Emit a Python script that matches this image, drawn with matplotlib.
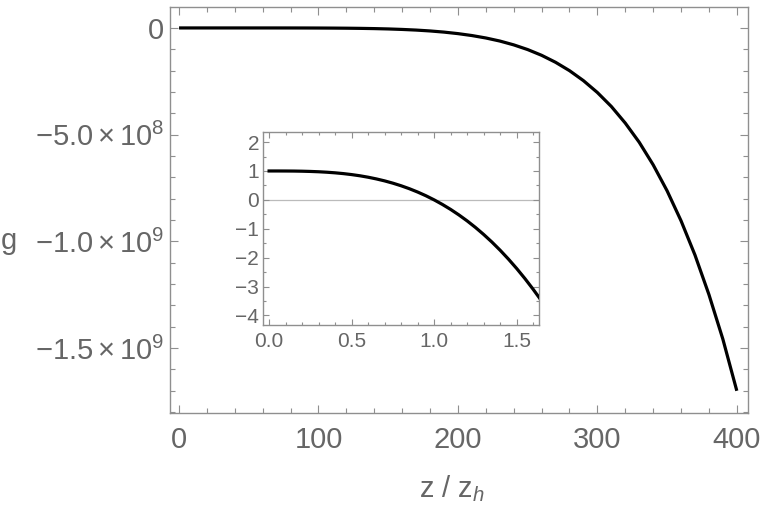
import matplotlib
matplotlib.use("Agg")
import matplotlib.pyplot as plt
from matplotlib.ticker import MultipleLocator, FixedLocator

plt.rcParams['font.family'] = ['Liberation Sans', 'DejaVu Sans']
plt.rcParams['mathtext.fontset'] = 'custom'
plt.rcParams['mathtext.rm'] = 'Liberation Sans'
plt.rcParams['mathtext.it'] = 'Liberation Sans:italic'
plt.rcParams['mathtext.default'] = 'regular'

# main curve (g in units of 1e8)
z_main = [0, 10, 20, 30, 40, 50, 60, 70, 80, 90, 100, 110, 120, 130, 140, 150,
          160, 170, 180, 190, 200, 210, 220, 230, 240, 250, 260, 270, 280, 290,
          300, 310, 320, 330, 340, 350, 360, 370, 380, 390, 400]
g_main = [0, 0, 0, 0, 0, -0.0001, -0.0002, -0.0005, -0.0011, -0.0022, -0.0042,
          -0.0074, -0.0124, -0.020, -0.031, -0.047, -0.070, -0.100, -0.141,
          -0.195, -0.266, -0.356, -0.470, -0.613, -0.793, -1.013, -1.282,
          -1.609, -2.001, -2.469, -3.025, -3.679, -4.457, -5.355, -6.411,
          -7.630, -9.034, -10.64, -12.49, -14.58, -17.00]

# inset curve
z_ins = [0.0, 0.05, 0.1, 0.15, 0.2, 0.25, 0.3, 0.35, 0.4, 0.45, 0.5, 0.55, 0.6,
         0.65, 0.7, 0.75, 0.8, 0.85, 0.9, 0.95, 1.0, 1.05, 1.1, 1.15, 1.2, 1.25,
         1.3, 1.35, 1.4, 1.45, 1.5, 1.55, 1.6, 1.637]
g_ins = [1.0, 1.0, 0.999, 0.997, 0.992, 0.984, 0.973, 0.957, 0.936, 0.909,
         0.875, 0.834, 0.784, 0.725, 0.657, 0.578, 0.488, 0.386, 0.271, 0.143,
         0.0, -0.158, -0.331, -0.521, -0.728, -0.953, -1.197, -1.460, -1.744,
         -2.049, -2.375, -2.724, -3.096, -3.387]

y_ticks = [0, -5e8, -1e9, -1.5e9]
y_tick_labels = ['0', r'$-5.0\times10^{8}$', r'$-1.0\times10^{9}$', r'$-1.5\times10^{9}$']

frame_c = '#8f8f8f'
text_c = '#666666'

fig = plt.figure(figsize=(7.63, 5.09), dpi=100)
ax = fig.add_axes([0.2228, 0.1886, 0.7575, 0.7976])

ax.plot(z_main, [v * 1e8 for v in g_main], color='black', lw=2.3,
        solid_capstyle='butt')
ax.set_xlim(-6.5, 408)
ax.set_ylim(-1.804e9, 0.098e9)

ax.xaxis.set_major_locator(MultipleLocator(100))
ax.xaxis.set_minor_locator(MultipleLocator(20))
ax.yaxis.set_major_locator(FixedLocator(y_ticks))
ax.yaxis.set_minor_locator(MultipleLocator(1e8))
ax.set_yticklabels(y_tick_labels)

for sp in ax.spines.values():
    sp.set_color(frame_c)
    sp.set_linewidth(1.0)
ax.tick_params(which='both', direction='in', top=True, right=True,
               color=frame_c, labelcolor=text_c, labelsize=21, width=0.8)
ax.tick_params(which='major', length=6)
ax.tick_params(which='minor', length=3.5)
ax.tick_params(axis='x', which='major', pad=9)
ax.tick_params(axis='y', which='major', pad=4)

fig.text(0.001, 0.527, 'g', fontsize=21, color=text_c, ha='left', va='center')
fig.text(0.592, 0.04, r'z / z$_{\it h}$', fontsize=21, color=text_c,
         ha='center', va='center')

# inset
axi = fig.add_axes([0.3451, 0.3615, 0.3617, 0.3798])
axi.axhline(0, color='#bbbbbb', lw=0.9, zorder=1)
axi.plot(z_ins, g_ins, color='black', lw=2.3, zorder=3)
axi.set_xlim(-0.035, 1.637)
axi.set_ylim(-4.33, 2.36)
axi.xaxis.set_major_locator(MultipleLocator(0.5))
axi.xaxis.set_minor_locator(MultipleLocator(0.1))
axi.yaxis.set_major_locator(MultipleLocator(1))
axi.yaxis.set_minor_locator(MultipleLocator(0.5))
axi.xaxis.set_major_formatter(matplotlib.ticker.FormatStrFormatter('%.1f'))
axi.yaxis.set_major_formatter(matplotlib.ticker.FuncFormatter(
    lambda v, p: ('%d' % v).replace('-', '\u2212')))
for sp in axi.spines.values():
    sp.set_color(frame_c)
    sp.set_linewidth(1.0)
axi.tick_params(which='both', direction='in', top=True, right=True,
                color=frame_c, labelcolor=text_c, labelsize=15, width=0.8)
axi.tick_params(which='major', length=4)
axi.tick_params(which='minor', length=2.5)
axi.tick_params(axis='x', which='major', pad=5)
axi.tick_params(axis='y', which='major', pad=3)

fig.savefig('out.png', dpi=100)
